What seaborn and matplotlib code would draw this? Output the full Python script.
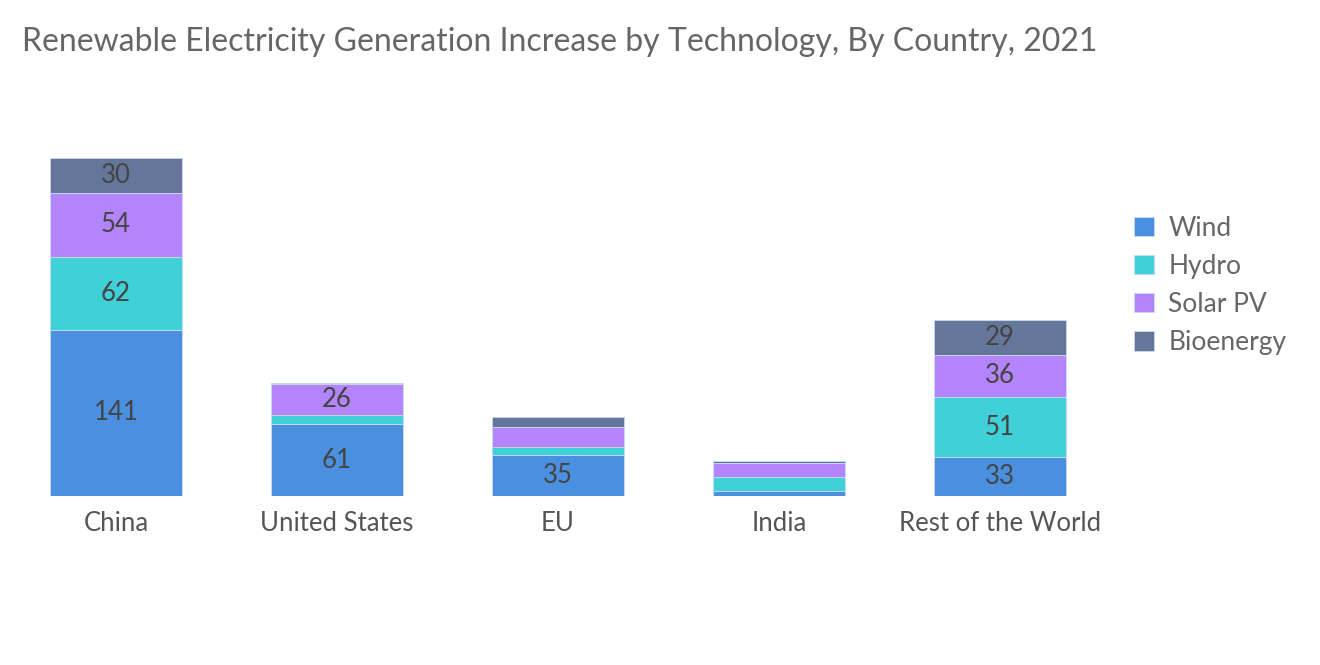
import numpy as np
import pandas as pd
import matplotlib
matplotlib.use('Agg')
import matplotlib.pyplot as plt
import seaborn as sns

sns.set_style("white")
plt.rcParams['font.family'] = ['Lato', 'DejaVu Sans']

# data
countries = ["China", "United States", "EU", "India", "Rest of the World"]
wind = [141, 61, 35, 4, 33]
hydro = [62, 8, 7, 12, 51]
solar = [54, 26, 17, 12, 36]
bioenergy = [30, 1, 8, 2, 29]

techs = ["Wind", "Hydro", "Solar PV", "Bioenergy"]
colors = ["#4a8fe0", "#40d0d8", "#b384fb", "#64779b"]

df = pd.DataFrame({"country": countries, "Wind": wind, "Hydro": hydro,
                   "Solar PV": solar, "Bioenergy": bioenergy})

fig = plt.figure(figsize=(13.2, 6.65), dpi=100)
ax = fig.add_axes([0.0042, 0.254, 0.837, 0.532])

bottom = np.zeros(len(countries))
for tech, c in zip(techs, colors):
    sns.barplot(data=df, x="country", y=tech, bottom=bottom, color=c,
                width=0.6, label=tech, edgecolor="#c8dcf5", linewidth=0.6,
                ax=ax, saturation=1)
    bottom = bottom + df[tech].values

for cont, tech in zip(ax.containers, techs):
    vals = df[tech].values
    labels = [str(v) if v >= 20 else "" for v in vals]
    ax.bar_label(cont, labels=labels, label_type="center",
                 fontsize=18.5, color="#444444")

ax.set_xlim(-0.5, 4.5)
ax.set_ylim(0, 300)
ax.set_xlabel("")
ax.set_ylabel("")
ax.set_yticks([])
ax.tick_params(axis="x", length=0, labelsize=18.5, labelcolor="#555555", pad=11)
sns.despine(ax=ax, left=True, bottom=True)

leg = ax.legend(loc="upper left", bbox_to_anchor=(1.0, 0.86), frameon=False,
                fontsize=19, handlelength=0.75, handleheight=0.75,
                labelspacing=0.5, handletextpad=0.55)
for t in leg.get_texts():
    t.set_color("#666666")

fig.text(0.017, 0.937, "Renewable Electricity Generation Increase by Technology, By Country, 2021",
         fontsize=23, color="#666666", ha="left", va="center")

fig.savefig("out.png", dpi=100)
